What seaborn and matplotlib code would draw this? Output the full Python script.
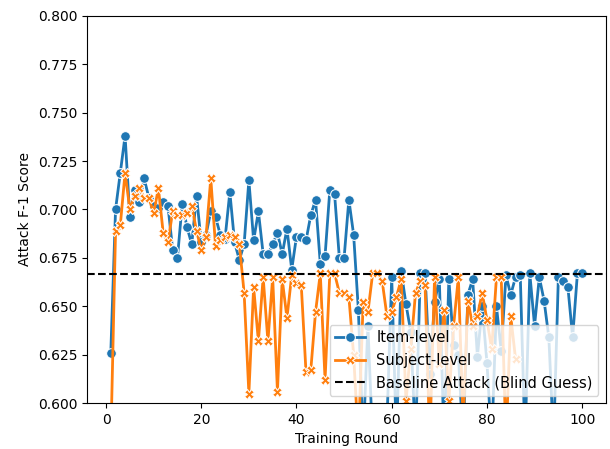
import numpy as np
import pandas as pd
import seaborn as sns
import matplotlib
matplotlib.use("Agg")
import matplotlib.pyplot as plt

# F-1 score per training round
item_level = [0.626, 0.700, 0.719, 0.738, 0.696, 0.710, 0.704, 0.716, 0.706, 0.702,
              0.701, 0.704, 0.702, 0.679, 0.675, 0.703, 0.691, 0.682, 0.707, 0.683,
              0.687, 0.699, 0.696, 0.687, 0.685, 0.709, 0.683, 0.674, 0.682, 0.715,
              0.684, 0.699, 0.677, 0.677, 0.682, 0.688, 0.677, 0.690, 0.669, 0.686,
              0.686, 0.684, 0.697, 0.705, 0.672, 0.676, 0.710, 0.708, 0.675, 0.675,
              0.705, 0.687, 0.648, 0.580, 0.640, 0.580, 0.585, 0.580, 0.590, 0.665,
              0.580, 0.668, 0.651, 0.637, 0.580, 0.667, 0.667, 0.615, 0.652, 0.664,
              0.580, 0.664, 0.630, 0.625, 0.580, 0.656, 0.664, 0.624, 0.650, 0.621,
              0.580, 0.650, 0.627, 0.666, 0.656, 0.665, 0.666, 0.580, 0.667, 0.640,
              0.665, 0.653, 0.634, 0.580, 0.665, 0.663, 0.660, 0.634, 0.667, 0.667]

subject_level = [0.580, 0.689, 0.692, 0.719, 0.700, 0.707, 0.711, 0.706, 0.706, 0.698,
                 0.711, 0.688, 0.683, 0.699, 0.697, 0.697, 0.698, 0.702, 0.689, 0.679,
                 0.686, 0.716, 0.681, 0.684, 0.686, 0.687, 0.686, 0.682, 0.657, 0.605,
                 0.660, 0.632, 0.665, 0.632, 0.665, 0.606, 0.664, 0.644, 0.666, 0.662,
                 0.661, 0.616, 0.617, 0.647, 0.667, 0.612, 0.667, 0.667, 0.657, 0.657,
                 0.655, 0.625, 0.580, 0.652, 0.647, 0.667, 0.667, 0.663, 0.645, 0.647,
                 0.655, 0.664, 0.601, 0.628, 0.657, 0.663, 0.661, 0.580, 0.665, 0.620,
                 0.648, 0.601, 0.640, 0.665, 0.590, 0.653, 0.640, 0.645, 0.657, 0.643,
                 0.628, 0.665, 0.665, 0.580, 0.645, 0.623]

baseline = 2 / 3

df = pd.concat([
    pd.DataFrame({"round": np.arange(1, len(item_level) + 1), "score": item_level, "level": "Item-level"}),
    pd.DataFrame({"round": np.arange(1, len(subject_level) + 1), "score": subject_level, "level": "Subject-level"}),
])

fig, ax = plt.subplots(figsize=(6.1, 4.49), dpi=100)
sns.lineplot(data=df, x="round", y="score", hue="level", style="level",
             markers=["o", "X"], dashes=False, markersize=7, linewidth=2, ax=ax)
ax.axhline(baseline, color="black", linestyle="--", linewidth=1.5, label="Baseline Attack (Blind Guess)")

ax.set_ylim(0.6, 0.8)
ax.set_xlabel("Training Round")
ax.set_ylabel("Attack F-1 Score")
ax.legend(loc="lower right", fontsize=10.5)

fig.subplots_adjust(left=0.143, right=0.993, top=0.965, bottom=0.102)
fig.savefig("out.png", dpi=100)
